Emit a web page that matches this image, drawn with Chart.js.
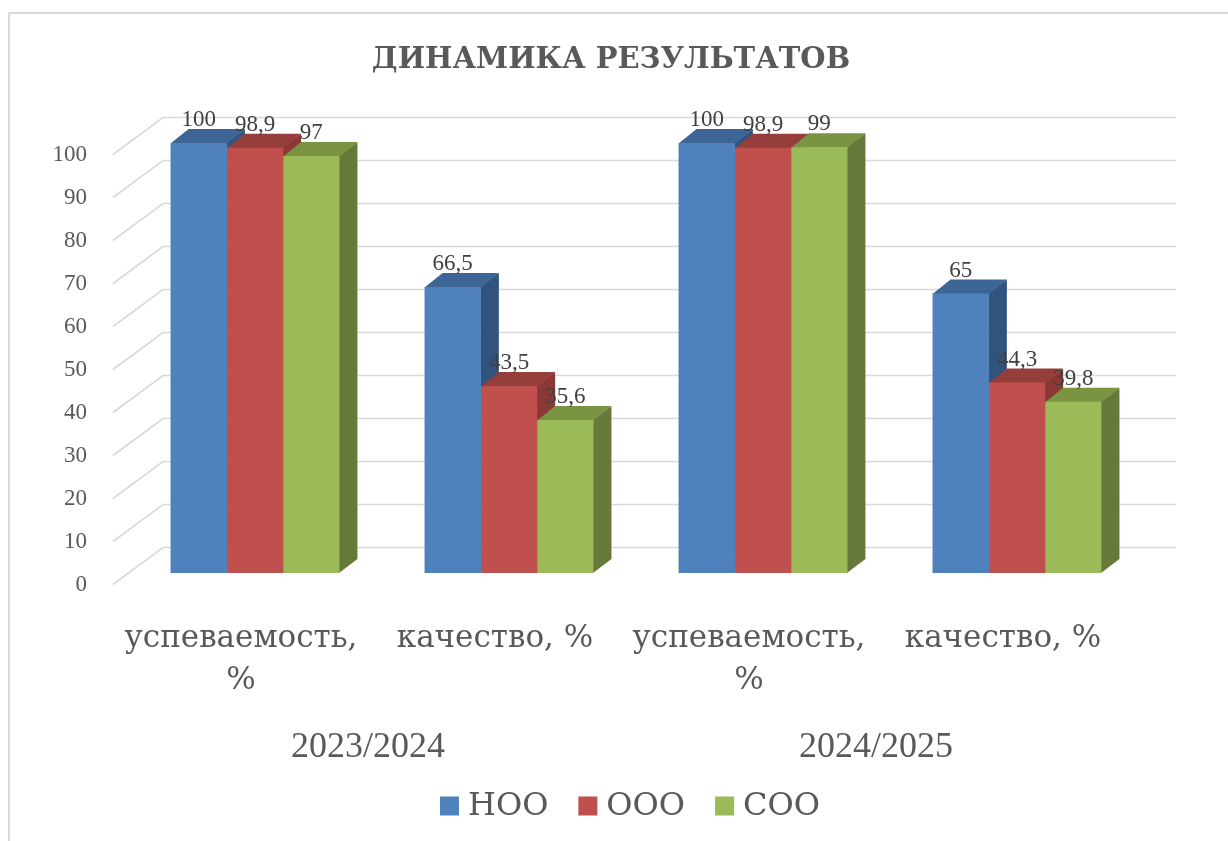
<!DOCTYPE html>
<html lang="ru">
<head>
<meta charset="utf-8">
<title>Динамика результатов</title>
<script src="https://cdn.jsdelivr.net/npm/chart.js@4.4.1/dist/chart.umd.min.js"></script>
<style>
  html, body { margin: 0; padding: 0; background: #fff; }
  canvas { display: block; }
</style>
</head>
<body>
<canvas id="chart" width="1228" height="841"></canvas>
<script>
// ---- данные ----
const CATEGORIES = [["успеваемость,", "%"], "качество, %", ["успеваемость,", "%"], "качество, %"];
const YEARS = ["2023/2024", "2024/2025"];
const SERIES = ["НОО", "ООО", "СОО"];
const NOO = [100, 66.5, 100, 65];
const OOO = [98.9, 43.5, 98.9, 44.3];
const SOO = [97, 35.6, 99, 39.8];
const TITLE = "ДИНАМИКА РЕЗУЛЬТАТОВ";

// ---- оформление ----
const FRONT = ["#4f81bd", "#c0504d", "#9bbb59"];
const TOP = ["#3d6595", "#953e3c", "#7a9442"];
const SIDE = ["#31547f", "#8a3836", "#67793a"];
const LAT = "'Liberation Serif', 'DejaVu Serif', serif";
const CYR = "'DejaVu Serif', serif"; // в Liberation Serif тут нет кириллицы
const TEXT = "#595959";
const GRID = "#d9d9d9";
const DX = 18, DY = -14; // глубина столбика

const $ = (id) => document.getElementById(id);
const fmt = (v) => String(v).replace(".", ",");

function poly(ctx, pts) {
  ctx.beginPath();
  ctx.moveTo(pts[0][0], pts[0][1]);
  for (const [x, y] of pts.slice(1)) ctx.lineTo(x, y);
  ctx.closePath();
  ctx.fill();
}

/* рамка, заголовок, задняя стенка, грани 3D, подписи и легенда */
const threeD = {
  id: "threeD",
  beforeDraw(chart) {
    const { ctx, width, height } = chart;
    ctx.save();
    ctx.fillStyle = "#fff";
    ctx.fillRect(0, 0, width, height);
    ctx.strokeStyle = GRID;
    ctx.lineWidth = 2;
    ctx.beginPath();
    ctx.moveTo(9, height);
    ctx.lineTo(9, 13);
    ctx.lineTo(width + 5, 13);
    ctx.stroke();
    ctx.font = `bold 29px ${CYR}`;
    ctx.fillStyle = TEXT;
    ctx.textAlign = "center";
    ctx.textBaseline = "alphabetic";
    ctx.fillText(TITLE, 611, 68);
    ctx.restore();
  },
  beforeDatasetsDraw(chart) {
    const { ctx, chartArea: a } = chart;
    const y = chart.scales.y;
    ctx.save();
    ctx.strokeStyle = GRID;
    ctx.lineWidth = 1.6;
    y.ticks.forEach((t) => {
      const py = y.getPixelForValue(t.value);
      ctx.beginPath();
      ctx.moveTo(a.left - 15, py + 11.5);
      ctx.lineTo(a.left + 35, py - 25.5);
      ctx.lineTo(a.right + 32, py - 25.5);
      ctx.stroke();
    });
    chart.data.datasets.forEach((ds, i) => {
      chart.getDatasetMeta(i).data.forEach((bar) => {
        const l = bar.x - bar.width / 2, r = bar.x + bar.width / 2, t = bar.y, b = bar.base;
        ctx.fillStyle = SIDE[i];
        poly(ctx, [[r - 0.5, t], [r + DX, t + DY], [r + DX, b + DY], [r - 0.5, b]]);
        ctx.fillStyle = TOP[i];
        poly(ctx, [[l, t + 0.5], [l + DX, t + DY], [r + DX, t + DY], [r, t + 0.5]]);
      });
    });
    ctx.restore();
  },
  afterDatasetsDraw(chart) {
    const { ctx } = chart;
    ctx.save();
    ctx.font = `23px ${LAT}`;
    ctx.fillStyle = "#404040";
    ctx.textAlign = "center";
    ctx.textBaseline = "alphabetic";
    chart.data.datasets.forEach((ds, i) => {
      chart.getDatasetMeta(i).data.forEach((bar, j) => {
        ctx.fillText(fmt(ds.data[j]), bar.x, bar.y - 17);
      });
    });
    ctx.restore();
  },
  afterDraw(chart) {
    const { ctx, chartArea: a } = chart;
    ctx.save();
    ctx.font = `32px ${CYR}`;
    ctx.textBaseline = "middle";
    const box = 19, gap = 9, space = 30, cy = 806;
    const widths = SERIES.map((s) => ctx.measureText(s).width);
    const total = widths.reduce((s, w) => s + box + gap + w, 0) + space * (SERIES.length - 1);
    let x = (a.left + a.right) / 2 - total / 2 - 6;
    SERIES.forEach((s, i) => {
      ctx.fillStyle = FRONT[i];
      ctx.fillRect(x, cy - box / 2, box, box);
      ctx.fillStyle = TEXT;
      ctx.fillText(s, x + box + gap, cy + 1);
      x += box + gap + widths[i] + space;
    });
    ctx.restore();
  },
};

new Chart($("chart"), {
  type: "bar",
  data: {
    labels: CATEGORIES,
    datasets: [
      { label: SERIES[0], data: NOO, backgroundColor: FRONT[0] },
      { label: SERIES[1], data: OOO, backgroundColor: FRONT[1] },
      { label: SERIES[2], data: SOO, backgroundColor: FRONT[2] },
    ],
  },
  options: {
    responsive: false,
    animation: false,
    layout: { padding: { top: 143, left: 20, right: 84, bottom: 80 } },
    datasets: { bar: { barPercentage: 1, categoryPercentage: 0.665, borderWidth: 0 } },
    plugins: {
      legend: { display: false },
      tooltip: { enabled: false },
      title: { display: false },
    },
    scales: {
      y: {
        min: 0, max: 100,
        grid: { display: false },
        border: { display: false },
        ticks: { stepSize: 10, color: TEXT, font: { family: LAT, size: 23 }, padding: 33, labelOffset: 12 },
        afterFit: (s) => { s.width = 108; },
      },
      x: {
        grid: { display: false },
        border: { display: false },
        ticks: {
          color: TEXT, font: { family: CYR, size: 31, lineHeight: 1.35 },
          padding: 37, labelOffset: -14, maxRotation: 0, autoSkip: false,
        },
        afterFit: (s) => { s.height = 130; },
      },
      x2: {
        type: "category",
        labels: YEARS,
        position: "bottom",
        offset: true,
        weight: 1,
        grid: { display: false },
        border: { display: false },
        ticks: { color: TEXT, font: { family: LAT, size: 36 }, padding: 15, labelOffset: -14, maxRotation: 0 },
        afterFit: (s) => { s.height = 58; },
      },
    },
  },
  plugins: [threeD],
});
</script>
</body>
</html>
